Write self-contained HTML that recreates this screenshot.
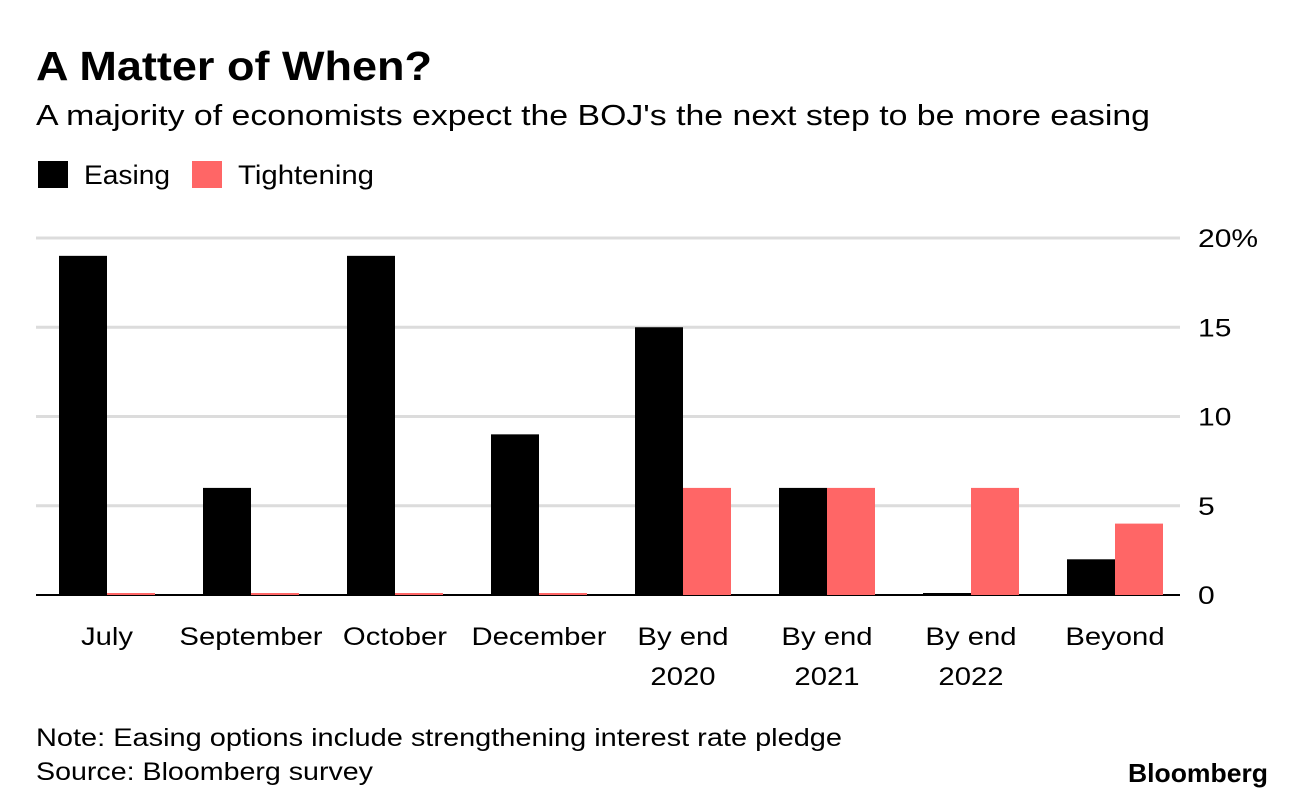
<!DOCTYPE html>
<html><head><meta charset="utf-8"><style>
body{margin:0;background:#fff;font-family:"Liberation Sans",Arial,sans-serif;}
svg text{font-family:"Liberation Sans",Arial,sans-serif;}
</style></head><body>
<svg id="chart" width="1296" height="802" xmlns="http://www.w3.org/2000/svg">
<text x="36" y="80" font-size="41" font-weight="bold" fill="#000" textLength="396" lengthAdjust="spacingAndGlyphs">A Matter of When?</text>
<text x="36" y="125" font-size="29" fill="#000" textLength="1114" lengthAdjust="spacingAndGlyphs">A majority of economists expect the BOJ's the next step to be more easing</text>
<g>
<rect x="38" y="161" width="30" height="27" fill="#000"/>
<text x="84" y="184" font-size="27" textLength="86" lengthAdjust="spacingAndGlyphs">Easing</text>
<rect x="192" y="161" width="30" height="27" fill="#ff6666"/>
<text x="238" y="184" font-size="27" textLength="136" lengthAdjust="spacingAndGlyphs">Tightening</text>
</g>
<g id="grid"></g><g id="bars"></g><g id="labels"></g>
<text x="36" y="746" font-size="25" textLength="806" lengthAdjust="spacingAndGlyphs">Note: Easing options include strengthening interest rate pledge</text>
<text x="36" y="780" font-size="25" textLength="337" lengthAdjust="spacingAndGlyphs">Source: Bloomberg survey</text>
<text x="1128" y="782" font-size="26" font-weight="bold" textLength="140" lengthAdjust="spacingAndGlyphs">Bloomberg</text>
</svg>
<script>
const categories=[["July"],["September"],["October"],["December"],["By end","2020"],["By end","2021"],["By end","2022"],["Beyond"]];
const easing=[19,6,19,9,15,6,0,2];
const tightening=[0,0,0,0,6,6,6,4];
const ticks=[0,5,10,15,20];
const tickLabels=["0","5","10","15","20%"];
const NS="http://www.w3.org/2000/svg";
const y0=595,yTop=238,maxV=20;
function y(v){return y0-(y0-yTop)*v/maxV;}
function xc(i){return 107+i*144;}
const bw=48;
function mk(tag,attrs,parent){const e=document.createElementNS(NS,tag);for(const k in attrs)e.setAttribute(k,attrs[k]);parent.appendChild(e);return e;}
function stretch(t,f){const w=t.getComputedTextLength();t.setAttribute('textLength',(w*f).toFixed(1));t.setAttribute('lengthAdjust','spacingAndGlyphs');}
const grid=document.getElementById('grid'),bars=document.getElementById('bars'),labels=document.getElementById('labels');
ticks.forEach((t,i)=>{
 const l=mk('line',{x1:36,x2:1180,y1:y(t),y2:y(t),stroke:t===0?'#000':'#dcdcdc','stroke-width':t===0?2:3},grid);
 
 
 const tx=mk('text',{x:1198,y:y(t)+9,'font-size':25},grid);tx.textContent=tickLabels[i];
 
 
 stretch(tx,1.2);
});
categories.forEach((c,i)=>{
 const he=Math.max(2,y0-y(easing[i]));
 const b=mk('rect',{x:xc(i)-bw,y:y0-he,width:bw,height:he,fill:'#000'},bars);
 
 
 const ht=Math.max(2,y0-y(tightening[i]));
 const r=mk('rect',{x:xc(i),y:y0-ht,width:bw,height:ht,fill:'#ff6666'},bars);
 
 
 c.forEach((line,j)=>{
  const t=mk('text',{x:xc(i),y:645+j*40,'font-size':25,'text-anchor':'middle'},labels);t.textContent=line;
  
  
  stretch(t,1.17);
 });
});
</script>
</body></html>
